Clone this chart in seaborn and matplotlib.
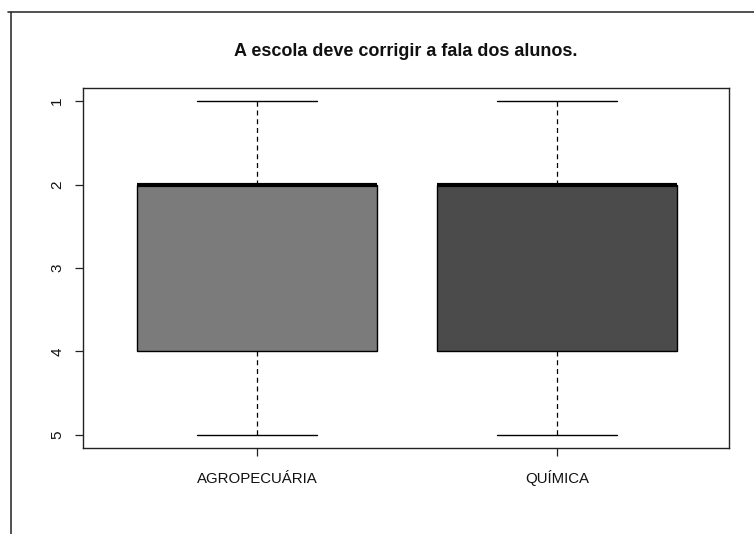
import matplotlib
matplotlib.use("Agg")
import matplotlib.pyplot as plt
from matplotlib.lines import Line2D
import seaborn as sns
import pandas as pd

# Data (Likert responses, 1-5)
categories = ["AGROPECUÁRIA", "QUÍMICA"]
agro_values = [1, 2, 2, 2, 2, 2, 4, 4, 4, 5]
quimica_values = [1, 2, 2, 2, 2, 2, 2, 4, 4, 4, 4, 5]
box_colors = ["#7b7b7b", "#4b4b4b"]
title = "A escola deve corrigir a fala dos alunos."
y_ticks = [1, 2, 3, 4, 5]

df = pd.DataFrame({
    "curso": [categories[0]] * len(agro_values) + [categories[1]] * len(quimica_values),
    "valor": agro_values + quimica_values,
})

sns.set_theme(style="white")
plt.rcParams["font.family"] = ["Liberation Sans", "DejaVu Sans"]

fig = plt.figure(figsize=(7.54, 5.34), dpi=100)
ax = fig.add_axes([83 / 754, 1 - 448 / 534, (729 - 83) / 754, (448 - 88) / 534])

sns.boxplot(
    data=df, x="curso", y="valor", hue="curso", order=categories,
    palette=box_colors, legend=False, width=0.8, whis=1.5, ax=ax,
    linecolor="black", linewidth=1.0, saturation=1,
    medianprops=dict(color="black", linewidth=3, solid_capstyle="butt"),
    whiskerprops=dict(color="black", linestyle=(0, (4, 3)), linewidth=0.9),
    capprops=dict(color="black", linewidth=1.0),
    boxprops=dict(edgecolor="black", linewidth=1.0),
    showfliers=False,
)

ax.set_xlim(-0.58, 1.573)
ax.set_ylim(5.156, 0.844)
ax.set_yticks(y_ticks)
ax.set_yticklabels([str(v) for v in y_ticks])
ax.set_xlabel("")
ax.set_ylabel("")

for s in ax.spines.values():
    s.set_visible(True)
    s.set_color("#222222")
    s.set_linewidth(1.0)

ax.tick_params(axis="both", which="both", direction="out", length=5.5, width=0.9,
               color="#222222", labelcolor="#111111", labelsize=10.8)
ax.tick_params(axis="x", pad=20, bottom=True)
ax.tick_params(axis="y", pad=8, left=True, labelrotation=90, labelsize=11)
for lbl in ax.get_xticklabels():
    lbl.set_va("baseline")
for lbl in ax.get_yticklabels():
    lbl.set_va("center")

fig.text((83 + 729) / 2 / 754, 1 - 52 / 534, title, ha="center", va="center",
         fontsize=13, fontweight="bold", color="#111111")

# outer frame lines
fig.add_artist(Line2D([8 / 754, 1.0], [1 - 12 / 534, 1 - 12 / 534],
                      transform=fig.transFigure, color="#333333", linewidth=1.2))
fig.add_artist(Line2D([11 / 754, 11 / 754], [1 - 12 / 534, 0.0],
                      transform=fig.transFigure, color="#333333", linewidth=1.2))

fig.savefig("out.png", dpi=100)
